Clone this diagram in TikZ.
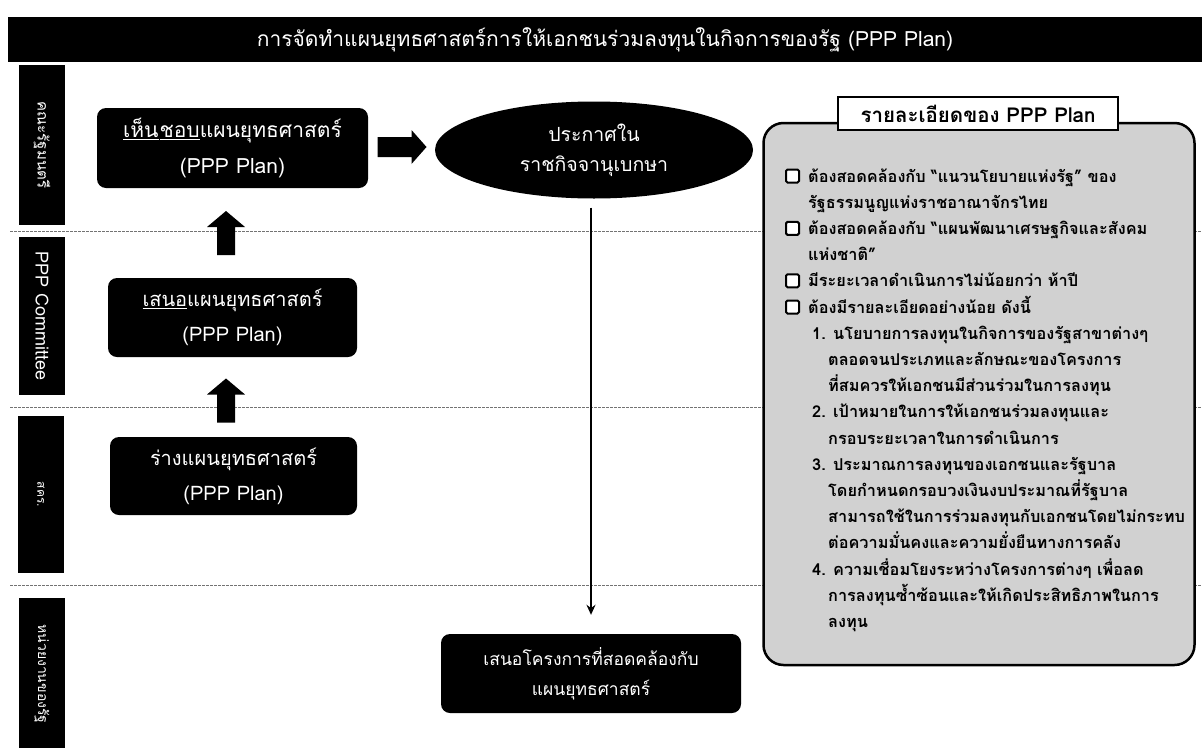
\documentclass[tikz,border=0pt]{standalone}
\usepackage{fontspec}
\setmainfont[Script=Thai]{Loma}
\usetikzlibrary{shapes.geometric,calc,arrows.meta}
\begin{document}
\begin{tikzpicture}[x=1pt,y=-1pt,
  blackbox/.style={fill=black, rounded corners=9pt, text=white, align=center, inner sep=0pt, font=\fontsize{20}{35}\selectfont},
  lanebox/.style={fill=black, text=white, inner sep=0pt, rotate=-90, font=\fontsize{15}{18}\selectfont},
  lanesep/.style={black!55, line width=0.7pt, dash pattern=on 2.5pt off 1.5pt},
  blockarrow/.style={fill=black},
  ptext/.style={anchor=base west, inner sep=0pt, font=\bfseries\fontsize{16.3}{20}\selectfont},
  chk/.style={draw, line width=2pt, rounded corners=1.5pt, minimum size=13pt, inner sep=0pt, fill=white},
]
\useasboundingbox (0,0) rectangle (1202,747);
\fill[white] (0,0) rectangle (1202,747);

% title bar
\node[fill=black, minimum width=1194, minimum height=45, inner sep=0pt, text=white,
      font=\fontsize{21}{24}\selectfont] (title) at (605,39.5)
      {การจัดทำแผนยุทธศาสตร์การให้เอกชนร่วมลงทุนในกิจการของรัฐ (PPP Plan)\hspace{10pt}};

% lane separators
\draw[lanesep] (10,231) -- (1202,231);
\draw[lanesep] (10,407) -- (1202,407);
\draw[lanesep] (10,585) -- (1202,585);

% lane labels
\node[lanebox, minimum width=160, minimum height=46] (l1) at (42,145) {คณะรัฐมนตรี};
\node[lanebox, minimum width=158, minimum height=46, font=\fontsize{18}{20}\selectfont] (l2) at (42,316) {PPP Committee};
\node[lanebox, minimum width=157, minimum height=46, font=\fontsize{12}{14}\selectfont] (l3) at (41,494.5) {สคร.};
\node[lanebox, minimum width=152, minimum height=46, font=\fontsize{14}{16}\selectfont] (l4) at (42,674) {หน่วยงานของรัฐ\hspace{10pt}};

% boxes
\node[blackbox, minimum width=271, minimum height=80, font=\fontsize{21}{36}\selectfont] (b1) at (232.5,148)
  {\underline{เห็น}\hspace{1pt}\underline{ชอบ}แผนยุทธศาสตร์\\(PPP Plan)};
\node[blackbox, minimum width=249, minimum height=79] (b2) at (232.5,317.5)
  {\underline{เสนอ}แผนยุทธศาสตร์\\(PPP Plan)};
\node[blackbox, minimum width=247, minimum height=78] (b3) at (233.5,476)
  {ร่างแผนยุทธศาสตร์\\(PPP Plan)};
\node[blackbox, minimum width=300, minimum height=79, font=\fontsize{17.5}{30}\selectfont] (b4) at (591,673.5)
  {เสนอโครงการที่สอดคล้องกับ\\แผนยุทธศาสตร์};
\node[ellipse, fill=black, text=white, minimum width=318, minimum height=97, inner sep=0pt,
      align=center, font=\fontsize{19.5}{30}\selectfont] (ell) at (594,150)
  {ประกาศใน\\ราชกิจจานุเบกษา};

% block arrows
\coordinate (u1) at ($(b2.north)!0.5!(b1.south)+(-6.5,0)$);
\fill[blockarrow] (u1) ++(-9,22) -- ++(0,-28) -- ++(-10,0) -- ++(19,-16) -- ++(19,16) -- ++(-10,0) -- ++(0,28) -- cycle;
\coordinate (u2) at ($(b3.north)!0.5!(b2.south)+(-7,3.5)$);
\fill[blockarrow] (u2) ++(-9,22) -- ++(0,-28) -- ++(-10,0) -- ++(19,-16) -- ++(19,16) -- ++(-10,0) -- ++(0,28) -- cycle;
\coordinate (r1) at ($(b1.east)!0.5!(ell.west)+(0.5,-2)$);
\fill[blockarrow] (r1) ++(-24.5,-10) -- ++(34,0) -- ++(0,-7) -- ++(15,17) -- ++(-15,17) -- ++(0,-7) -- ++(-34,0) -- cycle;

% vertical arrow
\draw[line width=2.2pt, -{Stealth[length=10pt,width=9pt]}] ($(ell.south)+(-3,9)$) -- ($(b4.north)+(0,-19)$);

% detail panel
\node[draw, line width=2.5pt, rounded corners=20pt, fill=black!18, minimum width=431, minimum height=542, inner sep=0pt] (panel) at (979,394) {};
\node[draw, line width=1.2pt, fill=white, minimum width=280, minimum height=33, inner sep=0pt,
      font=\bfseries\fontsize{20.5}{22}\selectfont] (ptitle) at (978,113.5) {รายละเอียดของ PPP Plan};

\node[chk] (c1) at (792.5,176) {};
\node[ptext] (t0) at (808,182) {ต้องสอดคล้องกับ “แนวนโยบายแห่งรัฐ” ของ};
\node[ptext] (t1) at (808,208.2) {รัฐธรรมนูญแห่งราชอาณาจักรไทย};
\node[chk] (c2) at (792.5,228.4) {};
\node[ptext] (t2) at (808,234.4) {ต้องสอดคล้องกับ “แผนพัฒนาเศรษฐกิจและสังคม};
\node[ptext] (t3) at (808,260.6) {แห่งชาติ”};
\node[chk] (c3) at (792.5,280.8) {};
\node[ptext] (t4) at (808,286.8) {มีระยะเวลาดำเนินการไม่น้อยกว่า ห้าปี};
\node[chk] (c4) at (792.5,307) {};
\node[ptext] (t5) at (808,313) {ต้องมีรายละเอียดอย่างน้อย ดังนี้};
\node[ptext] (t6) at (812,339.2) {1. นโยบายการลงทุนในกิจการของรัฐสาขาต่างๆ};
\node[ptext] (t7) at (828,365.4) {ตลอดจนประเภทและลักษณะของโครงการ};
\node[ptext] (t8) at (828,391.6) {ที่สมควรให้เอกชนมีส่วนร่วมในการลงทุน};
\node[ptext] (t9) at (812,417.8) {2. เป้าหมายในการให้เอกชนร่วมลงทุนและ};
\node[ptext] (t10) at (828,444) {กรอบระยะเวลาในการดำเนินการ};
\node[ptext] (t11) at (812,470.2) {3. ประมาณการลงทุนของเอกชนและรัฐบาล};
\node[ptext] (t12) at (828,496.4) {โดยกำหนดกรอบวงเงินงบประมาณที่รัฐบาล};
\node[ptext] (t13) at (828,522.6) {สามารถใช้ในการร่วมลงทุนกับเอกชนโดยไม่กระทบ};
\node[ptext] (t14) at (828,548.8) {ต่อความมั่นคงและความยั่งยืนทางการคลัง};
\node[ptext] (t15) at (812,575) {4. ความเชื่อมโยงระหว่างโครงการต่างๆ เพื่อลด};
\node[ptext] (t16) at (828,601.2) {การลงทุนซ้ำซ้อนและให้เกิดประสิทธิภาพในการ};
\node[ptext] (t17) at (828,627.4) {ลงทุน};
\end{tikzpicture}
\end{document}
